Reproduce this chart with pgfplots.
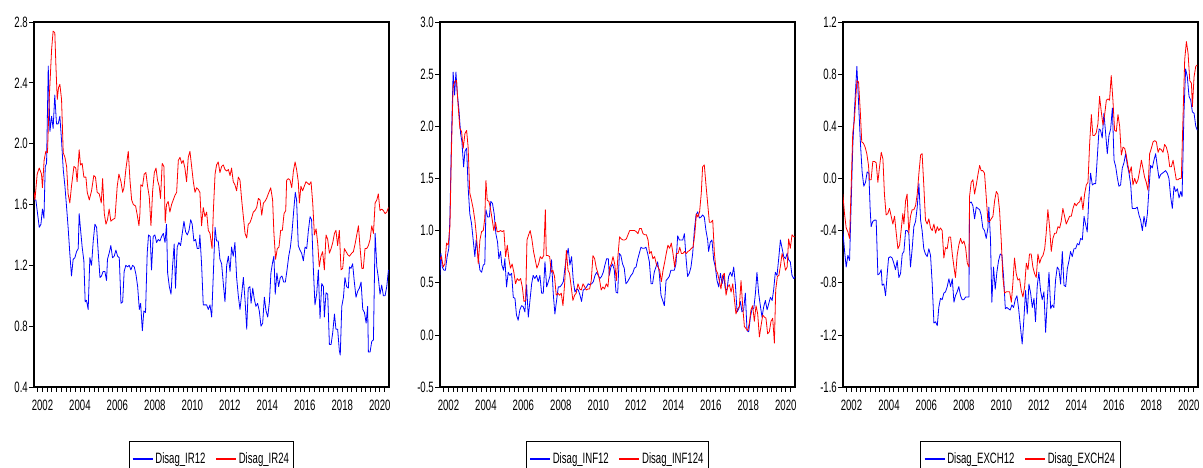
\documentclass[border=0pt]{standalone}
\usepackage{fontspec}
\setmainfont[FakeStretch=0.64]{Liberation Sans}
\usepackage{pgfplots}
\pgfplotsset{compat=1.18}
\pgfplotsset{
  eview/.style={
    scale only axis, width=355pt, height=365pt, anchor=south west,
    xmin=2001.55, xmax=2020.49,
    axis line style={line width=1.1pt},
    tick pos=left, tick align=outside,
    xtick={2002,2004,...,2020},
    minor xtick={2001.75,2002,...,2020.25},
    major tick length=5pt, minor tick length=5pt,
    tick style={black, line width=0.7pt},
    minor tick style={black, line width=0.7pt},
    /pgf/number format/assume math mode=true,
    xticklabel style={font=\fontsize{15}{15}\selectfont, inner sep=1pt, yshift=-7pt, /pgf/number format/1000 sep={}},
    yticklabel style={font=\fontsize{15}{15}\selectfont, inner sep=1pt, /pgf/number format/.cd, fixed, fixed zerofill, precision=1},
    legend style={at={(0.5,-0.148)}, anchor=north, legend columns=2, draw=black, line width=1pt,
      font=\fontsize{15}{15}\selectfont, inner sep=3pt, minimum height=29pt,
      /tikz/every even column/.append style={column sep=8pt}},
    legend image code/.code={\draw[#1, line width=1.3pt] (0pt,0pt) -- (20pt,0pt);},
    every axis plot/.append style={line width=0.8pt, line join=round},
  }
}
\begin{document}
\begin{tikzpicture}
\useasboundingbox (0pt,0pt) rectangle (1203pt,468pt);
% ---------------- Panel 1 ----------------
\begin{axis}[eview, at={(34pt,81pt)}, ymin=0.4, ymax=2.8, ytick={0.4,0.8,1.2,1.6,2.0,2.4,2.8}]
\addplot[color=blue] coordinates {
(2001.56,1.63)(2001.65,1.63)(2001.74,1.54)(2001.83,1.45)(2001.92,1.47)(2002.00,1.57)(2002.08,1.51)(2002.15,1.85)(2002.22,1.87)(2002.31,2.51)
(2002.40,2.08)(2002.49,2.18)(2002.57,2.10)(2002.66,2.32)(2002.75,2.13)(2002.84,2.13)(2002.93,2.18)(2003.02,2.02)(2003.11,1.83)(2003.20,1.72)
(2003.29,1.58)(2003.37,1.45)(2003.46,1.28)(2003.55,1.13)(2003.64,1.24)(2003.73,1.25)(2003.82,1.29)(2003.91,1.31)(2003.96,1.54)(2004.03,1.44)
(2004.12,1.32)(2004.21,1.23)(2004.28,0.96)(2004.35,0.97)(2004.44,0.91)(2004.53,1.25)(2004.62,1.20)(2004.71,1.36)(2004.80,1.47)(2004.89,1.45)
(2004.98,1.28)(2005.07,1.12)(2005.15,1.13)(2005.24,1.16)(2005.33,1.16)(2005.42,1.10)(2005.47,1.24)(2005.56,1.28)(2005.65,1.33)(2005.74,1.25)
(2005.83,1.26)(2005.92,1.30)(2006.01,1.26)(2006.10,1.25)(2006.19,0.95)(2006.28,0.96)(2006.36,1.16)(2006.45,1.20)(2006.54,1.19)(2006.63,1.20)
(2006.72,1.17)(2006.81,1.20)(2006.90,1.19)(2006.99,1.14)(2007.08,1.06)(2007.17,0.91)(2007.24,0.95)(2007.33,0.77)(2007.41,0.90)(2007.50,0.89)
(2007.59,1.28)(2007.66,1.40)(2007.75,1.39)(2007.82,1.17)(2007.91,1.39)(2008.00,1.40)(2008.09,1.35)(2008.18,1.37)(2008.27,1.36)(2008.36,1.39)
(2008.45,1.41)(2008.54,1.35)(2008.62,1.47)(2008.68,1.15)(2008.77,1.06)(2008.86,1.01)(2008.94,1.19)(2009.03,1.34)(2009.10,1.05)(2009.19,1.32)
(2009.28,1.35)(2009.37,1.33)(2009.46,1.41)(2009.55,1.49)(2009.64,1.42)(2009.73,1.40)(2009.82,1.43)(2009.91,1.50)(2009.99,1.47)(2010.08,1.36)
(2010.17,1.37)(2010.26,1.31)(2010.35,1.31)(2010.40,1.40)(2010.49,1.21)(2010.58,0.94)(2010.67,0.94)(2010.76,0.94)(2010.85,0.91)(2010.94,0.94)
(2011.03,0.86)(2011.12,1.15)(2011.21,1.45)(2011.29,1.36)(2011.38,1.36)(2011.47,1.24)(2011.56,1.21)(2011.65,1.08)(2011.74,0.96)(2011.83,1.20)
(2011.92,1.26)(2012.01,1.16)(2012.09,1.32)(2012.18,1.26)(2012.27,1.35)(2012.36,1.12)(2012.45,1.00)(2012.54,0.91)(2012.63,1.01)(2012.72,1.12)
(2012.81,0.97)(2012.90,0.78)(2012.98,1.05)(2013.07,1.06)(2013.13,0.95)(2013.22,1.05)(2013.30,0.98)(2013.39,0.93)(2013.48,0.95)(2013.57,0.90)
(2013.66,0.80)(2013.75,0.82)(2013.84,0.99)(2013.93,0.90)(2014.02,0.86)(2014.11,0.96)(2014.19,1.15)(2014.28,1.22)(2014.35,1.26)(2014.42,1.01)
(2014.51,1.15)(2014.60,1.06)(2014.69,1.12)(2014.78,1.13)(2014.87,1.09)(2014.96,1.09)(2015.05,1.17)(2015.14,1.26)(2015.23,1.32)(2015.31,1.41)
(2015.40,1.55)(2015.49,1.68)(2015.56,1.63)(2015.65,1.33)(2015.74,1.30)(2015.83,1.28)(2015.92,1.23)(2016.01,1.32)(2016.10,1.31)(2016.19,1.43)
(2016.28,1.52)(2016.36,1.50)(2016.45,1.19)(2016.54,0.94)(2016.63,1.01)(2016.72,1.17)(2016.81,0.85)(2016.90,1.08)(2016.99,1.06)(2017.04,0.86)
(2017.13,1.02)(2017.22,1.01)(2017.31,0.68)(2017.40,0.68)(2017.49,0.76)(2017.58,0.88)(2017.66,0.78)(2017.75,0.78)(2017.84,0.64)(2017.89,0.61)
(2017.97,0.93)(2018.06,0.99)(2018.14,1.12)(2018.23,1.06)(2018.32,1.05)(2018.38,1.19)(2018.46,1.18)(2018.55,1.21)(2018.64,1.09)(2018.73,0.99)
(2018.82,1.03)(2018.91,1.05)(2019.00,1.09)(2019.09,0.91)(2019.18,0.89)(2019.27,0.82)(2019.35,0.93)(2019.39,0.63)(2019.48,0.63)(2019.57,0.70)
(2019.66,0.71)(2019.75,1.41)(2019.84,1.19)(2019.92,1.12)(2020.01,1.01)(2020.10,1.07)(2020.19,1.00)(2020.28,1.00)(2020.37,1.06)(2020.46,1.17)
};
\addplot[color=red] coordinates {
(2001.56,1.68)(2001.60,1.63)(2001.72,1.80)(2001.83,1.84)(2001.95,1.80)(2002.00,1.71)(2002.09,1.89)(2002.18,1.95)(2002.27,1.94)(2002.36,2.29)
(2002.49,2.62)(2002.57,2.74)(2002.66,2.73)(2002.72,2.51)(2002.79,2.29)(2002.86,2.37)(2002.93,2.39)(2003.02,2.29)(2003.11,1.94)(2003.20,1.91)
(2003.29,1.85)(2003.37,1.67)(2003.46,1.61)(2003.55,1.72)(2003.68,1.85)(2003.78,1.84)(2003.85,1.75)(2003.96,1.96)(2004.03,1.86)(2004.12,1.87)
(2004.21,1.78)(2004.32,1.78)(2004.39,1.68)(2004.50,1.63)(2004.62,1.69)(2004.74,1.79)(2004.83,1.78)(2004.92,1.68)(2005.03,1.67)(2005.14,1.61)
(2005.21,1.77)(2005.30,1.54)(2005.39,1.47)(2005.47,1.50)(2005.56,1.57)(2005.65,1.49)(2005.74,1.50)(2005.87,1.51)(2005.99,1.72)(2006.08,1.80)
(2006.19,1.75)(2006.28,1.68)(2006.35,1.71)(2006.45,1.83)(2006.58,1.95)(2006.67,1.76)(2006.76,1.63)(2006.85,1.60)(2006.97,1.59)(2007.06,1.53)
(2007.15,1.46)(2007.20,1.54)(2007.25,1.73)(2007.34,1.72)(2007.43,1.80)(2007.52,1.81)(2007.61,1.72)(2007.70,1.65)(2007.79,1.46)(2007.88,1.69)
(2007.97,1.81)(2008.06,1.84)(2008.14,1.76)(2008.23,1.72)(2008.30,1.64)(2008.39,1.87)(2008.48,1.85)(2008.55,1.48)(2008.62,1.60)(2008.71,1.62)
(2008.80,1.55)(2008.89,1.60)(2008.98,1.63)(2009.07,1.66)(2009.16,1.68)(2009.25,1.89)(2009.34,1.91)(2009.43,1.87)(2009.51,1.89)(2009.60,1.84)
(2009.69,1.75)(2009.78,1.91)(2009.87,1.95)(2009.96,1.85)(2010.05,1.75)(2010.14,1.68)(2010.23,1.71)(2010.31,1.70)(2010.40,1.68)(2010.49,1.46)
(2010.58,1.58)(2010.67,1.52)(2010.76,1.55)(2010.85,1.43)(2010.94,1.41)(2011.05,1.31)(2011.12,1.56)(2011.21,1.80)(2011.29,1.86)(2011.38,1.88)
(2011.47,1.81)(2011.56,1.85)(2011.65,1.86)(2011.74,1.83)(2011.83,1.82)(2011.92,1.83)(2012.01,1.79)(2012.09,1.84)(2012.18,1.75)(2012.27,1.73)
(2012.36,1.69)(2012.45,1.78)(2012.54,1.76)(2012.63,1.63)(2012.72,1.52)(2012.81,1.41)(2012.90,1.38)(2012.98,1.47)(2013.07,1.48)(2013.16,1.51)
(2013.25,1.55)(2013.34,1.56)(2013.43,1.58)(2013.52,1.64)(2013.61,1.63)(2013.70,1.53)(2013.79,1.61)(2013.87,1.62)(2013.96,1.64)(2014.05,1.67)
(2014.18,1.71)(2014.28,1.63)(2014.35,1.41)(2014.44,1.24)(2014.53,1.31)(2014.62,1.32)(2014.71,1.43)(2014.80,1.43)(2014.89,1.54)(2014.98,1.56)
(2015.03,1.76)(2015.12,1.77)(2015.21,1.76)(2015.30,1.71)(2015.39,1.82)(2015.48,1.88)(2015.56,1.83)(2015.65,1.75)(2015.71,1.61)(2015.79,1.72)
(2015.88,1.69)(2015.97,1.72)(2016.06,1.75)(2016.15,1.74)(2016.24,1.73)(2016.33,1.75)(2016.42,1.61)(2016.51,1.40)(2016.60,1.44)(2016.69,1.34)
(2016.77,1.19)(2016.86,1.26)(2016.95,1.29)(2017.04,1.17)(2017.13,1.40)(2017.22,1.37)(2017.31,1.28)(2017.40,1.31)(2017.49,1.35)(2017.58,1.41)
(2017.66,1.43)(2017.75,1.33)(2017.84,1.43)(2017.93,1.17)(2018.02,1.18)(2018.11,1.31)(2018.20,1.29)(2018.29,1.27)(2018.38,1.26)(2018.50,1.28)
(2018.59,1.29)(2018.68,1.34)(2018.77,1.40)(2018.86,1.46)(2018.95,1.31)(2019.04,1.18)(2019.12,1.18)(2019.21,1.31)(2019.30,1.31)(2019.39,1.33)
(2019.48,1.37)(2019.57,1.46)(2019.66,1.41)(2019.75,1.61)(2019.84,1.63)(2019.92,1.67)(2020.01,1.56)(2020.10,1.57)(2020.19,1.56)(2020.28,1.54)
(2020.37,1.55)(2020.46,1.58)
};
\legend{Disag\_IR12,Disag\_IR24}
\end{axis}
% ---------------- Panel 2 ----------------
\begin{axis}[eview, at={(440pt,81pt)}, ymin=-0.5, ymax=3.0, ytick={-0.5,0,0.5,1.0,1.5,2.0,2.5,3.0}]
\addplot[color=blue] coordinates {
(2001.54,0.57)(2001.60,0.78)(2001.67,0.65)(2001.76,0.62)(2001.84,0.62)(2001.93,0.75)(2002.02,0.83)(2002.08,1.13)(2002.16,1.87)(2002.25,2.52)
(2002.33,2.30)(2002.40,2.52)(2002.47,2.32)(2002.56,2.16)(2002.65,1.93)(2002.72,1.85)(2002.81,1.61)(2002.88,1.76)(2002.97,1.79)(2003.05,1.42)
(2003.14,1.16)(2003.23,1.07)(2003.32,0.91)(2003.41,0.75)(2003.48,0.91)(2003.57,0.78)(2003.68,0.62)(2003.77,0.60)(2003.86,0.67)(2003.94,0.68)
(2004.00,1.20)(2004.09,1.13)(2004.18,1.13)(2004.26,1.28)(2004.35,1.26)(2004.44,1.16)(2004.53,0.97)(2004.62,0.89)(2004.69,0.73)(2004.78,0.80)
(2004.85,0.67)(2004.94,0.62)(2005.01,0.73)(2005.10,0.46)(2005.19,0.60)(2005.28,0.57)(2005.37,0.59)(2005.46,0.36)(2005.55,0.35)(2005.63,0.19)
(2005.72,0.14)(2005.81,0.24)(2005.90,0.28)(2005.99,0.27)(2006.08,0.22)(2006.17,0.48)(2006.26,0.17)(2006.35,0.33)(2006.44,0.49)(2006.52,0.57)
(2006.61,0.54)(2006.70,0.57)(2006.79,0.51)(2006.88,0.57)(2006.97,0.40)(2007.06,0.40)(2007.15,0.70)(2007.24,0.46)(2007.33,0.51)(2007.41,0.56)
(2007.50,0.72)(2007.59,0.40)(2007.68,0.20)(2007.77,0.33)(2007.86,0.46)(2007.95,0.46)(2008.04,0.48)(2008.13,0.51)(2008.22,0.65)(2008.30,0.75)
(2008.39,0.83)(2008.48,0.67)(2008.57,0.75)(2008.66,0.52)(2008.75,0.41)(2008.84,0.44)(2008.93,0.43)(2009.02,0.38)(2009.10,0.32)(2009.19,0.43)
(2009.28,0.44)(2009.37,0.46)(2009.46,0.49)(2009.55,0.48)(2009.64,0.49)(2009.73,0.51)(2009.82,0.57)(2009.91,0.60)(2009.99,0.57)(2010.08,0.54)
(2010.17,0.56)(2010.26,0.60)(2010.35,0.67)(2010.44,0.73)(2010.53,0.73)(2010.58,0.57)(2010.67,0.65)(2010.76,0.68)(2010.85,0.62)(2010.94,0.41)
(2011.03,0.40)(2011.12,0.78)(2011.20,0.76)(2011.29,0.68)(2011.38,0.64)(2011.47,0.49)(2011.56,0.51)(2011.65,0.54)(2011.74,0.57)(2011.83,0.59)
(2011.92,0.64)(2012.01,0.65)(2012.09,0.72)(2012.18,0.78)(2012.27,0.84)(2012.36,0.83)(2012.45,0.83)(2012.54,0.84)(2012.63,0.78)(2012.72,0.70)
(2012.81,0.49)(2012.89,0.49)(2012.98,0.60)(2013.07,0.65)(2013.16,0.70)(2013.25,0.59)(2013.34,0.38)(2013.43,0.33)(2013.52,0.28)(2013.61,0.52)
(2013.70,0.54)(2013.78,0.56)(2013.87,0.62)(2013.96,0.62)(2014.05,0.62)(2014.14,0.68)(2014.23,0.95)(2014.32,0.91)(2014.41,0.91)(2014.50,0.91)
(2014.59,0.97)(2014.67,0.75)(2014.76,0.56)(2014.85,0.59)(2014.94,0.65)(2015.03,0.78)(2015.12,1.00)(2015.21,1.15)(2015.30,1.18)(2015.39,1.12)
(2015.48,1.13)(2015.56,1.15)(2015.65,1.13)(2015.74,1.00)(2015.83,0.91)(2015.88,0.80)(2015.97,0.89)(2016.06,0.91)(2016.15,0.72)(2016.24,0.65)
(2016.33,0.52)(2016.42,0.46)(2016.51,0.59)(2016.60,0.49)(2016.69,0.57)(2016.77,0.44)(2016.86,0.43)(2016.95,0.56)(2017.04,0.60)(2017.13,0.56)
(2017.22,0.65)(2017.31,0.48)(2017.40,0.22)(2017.49,0.25)(2017.58,0.32)(2017.66,0.22)(2017.75,0.24)(2017.84,0.40)(2017.93,0.04)(2018.02,0.03)
(2018.11,0.17)(2018.20,0.25)(2018.29,0.25)(2018.38,0.40)(2018.46,0.60)(2018.55,0.40)(2018.64,0.28)(2018.73,0.17)(2018.82,0.27)(2018.91,0.33)
(2019.00,0.24)(2019.09,0.30)(2019.18,0.36)(2019.27,0.33)(2019.35,0.43)(2019.44,0.60)(2019.53,0.57)(2019.62,0.73)(2019.71,0.91)(2019.80,0.83)
(2019.89,0.75)(2019.98,0.73)(2020.07,0.78)(2020.15,0.72)(2020.24,0.70)(2020.33,0.57)(2020.42,0.54)(2020.49,0.56)
};
\addplot[color=red] coordinates {
(2001.54,0.72)(2001.63,0.75)(2001.72,0.65)(2001.81,0.68)(2001.90,0.88)(2001.99,0.86)(2002.08,1.04)(2002.16,1.77)(2002.25,2.38)(2002.34,2.43)
(2002.43,2.44)(2002.52,2.19)(2002.61,1.98)(2002.70,1.95)(2002.79,1.79)(2002.88,1.93)(2002.97,1.96)(2003.05,1.80)(2003.14,1.36)(2003.23,1.29)
(2003.32,1.21)(2003.41,1.10)(2003.50,0.94)(2003.59,0.68)(2003.68,0.91)(2003.77,0.99)(2003.86,1.00)(2003.94,1.12)(2004.00,1.48)(2004.07,1.29)
(2004.16,1.28)(2004.25,1.20)(2004.34,1.10)(2004.42,1.00)(2004.51,1.08)(2004.60,0.99)(2004.69,0.99)(2004.78,1.00)(2004.87,0.99)(2004.96,1.00)
(2005.05,0.75)(2005.14,0.86)(2005.23,0.72)(2005.31,0.64)(2005.40,0.68)(2005.49,0.60)(2005.58,0.49)(2005.67,0.54)(2005.76,0.52)(2005.85,0.54)
(2005.94,0.46)(2006.03,0.32)(2006.12,0.33)(2006.19,0.91)(2006.28,0.96)(2006.36,1.00)(2006.45,0.92)(2006.54,0.80)(2006.63,0.72)(2006.72,0.64)
(2006.81,0.68)(2006.90,0.75)(2006.99,0.73)(2007.08,0.76)(2007.17,1.20)(2007.22,0.76)(2007.31,0.76)(2007.40,0.75)(2007.49,0.60)(2007.57,0.62)
(2007.66,0.56)(2007.75,0.38)(2007.84,0.40)(2007.93,0.38)(2008.02,0.40)(2008.11,0.28)(2008.20,0.49)(2008.29,0.81)(2008.38,0.62)(2008.46,0.59)
(2008.55,0.46)(2008.64,0.33)(2008.73,0.38)(2008.82,0.40)(2008.91,0.49)(2009.00,0.44)(2009.09,0.43)(2009.18,0.49)(2009.27,0.46)(2009.35,0.43)
(2009.44,0.44)(2009.53,0.44)(2009.62,0.52)(2009.71,0.76)(2009.80,0.73)(2009.89,0.64)(2009.98,0.59)(2010.07,0.52)(2010.15,0.43)(2010.24,0.46)
(2010.33,0.44)(2010.42,0.49)(2010.51,0.46)(2010.60,0.65)(2010.69,0.68)(2010.78,0.75)(2010.87,0.68)(2010.96,0.52)(2011.04,0.75)(2011.13,0.94)
(2011.22,0.92)(2011.31,0.91)(2011.40,0.91)(2011.49,0.92)(2011.58,0.96)(2011.67,1.00)(2011.76,1.00)(2011.84,1.00)(2011.93,1.00)(2012.02,0.99)
(2012.11,0.97)(2012.20,1.02)(2012.29,1.02)(2012.38,0.97)(2012.47,0.96)(2012.56,0.96)(2012.65,0.91)(2012.73,0.78)(2012.82,0.80)(2012.91,0.73)
(2013.00,0.75)(2013.09,0.68)(2013.18,0.65)(2013.27,0.62)(2013.36,0.51)(2013.45,0.62)(2013.54,0.70)(2013.62,0.78)(2013.71,0.86)(2013.80,0.83)
(2013.89,0.88)(2013.98,0.78)(2014.07,0.65)(2014.16,0.78)(2014.25,0.78)(2014.34,0.84)(2014.43,0.78)(2014.51,0.78)(2014.60,0.80)(2014.69,0.78)
(2014.78,0.80)(2014.87,0.81)(2014.96,0.83)(2015.05,0.84)(2015.14,0.96)(2015.23,1.16)(2015.31,1.13)(2015.40,1.18)(2015.49,1.36)(2015.56,1.61)
(2015.65,1.63)(2015.74,1.44)(2015.83,1.26)(2015.92,1.08)(2016.01,1.08)(2016.10,1.10)(2016.19,0.78)(2016.28,0.62)(2016.36,0.59)(2016.45,0.52)
(2016.54,0.44)(2016.63,0.57)(2016.72,0.59)(2016.81,0.38)(2016.90,0.46)(2016.99,0.48)(2017.08,0.41)(2017.17,0.49)(2017.25,0.35)(2017.34,0.20)
(2017.43,0.25)(2017.52,0.27)(2017.61,0.52)(2017.70,0.27)(2017.79,0.08)(2017.88,0.06)(2017.97,0.04)(2018.06,0.12)(2018.14,0.24)(2018.23,0.28)
(2018.32,0.13)(2018.41,0.28)(2018.50,0.20)(2018.59,-0.02)(2018.68,0.09)(2018.77,0.19)(2018.86,0.17)(2018.94,0.16)(2019.03,0.01)(2019.12,0.03)
(2019.21,0.13)(2019.30,0.16)(2019.39,-0.08)(2019.46,0.43)(2019.55,0.56)(2019.63,0.57)(2019.72,0.67)(2019.80,0.78)(2019.89,0.72)(2019.98,0.62)
(2020.07,0.65)(2020.15,0.92)(2020.24,0.83)(2020.33,0.96)(2020.42,0.94)(2020.49,0.94)
};
\legend{Disag\_INF12,Disag\_INF124}
\end{axis}
% ---------------- Panel 3 ----------------
\begin{axis}[eview, at={(843pt,81pt)}, ymin=-1.6, ymax=1.2, ytick={-1.6,-1.2,-0.8,-0.4,0,0.4,0.8,1.2}]
\addplot[color=blue] coordinates {
(2001.54,-0.40)(2001.63,-0.55)(2001.72,-0.68)(2001.81,-0.59)(2001.90,-0.63)(2001.98,-0.22)(2002.07,0.24)(2002.16,0.52)(2002.29,0.86)(2002.39,0.55)
(2002.48,0.27)(2002.57,0.05)(2002.66,-0.06)(2002.75,-0.03)(2002.84,0.05)(2002.93,0.04)(2003.00,-0.24)(2003.05,-0.37)(2003.14,-0.33)(2003.23,-0.32)
(2003.32,-0.32)(2003.41,-0.74)(2003.50,-0.73)(2003.59,-0.70)(2003.64,-0.82)(2003.73,-0.81)(2003.82,-0.90)(2003.91,-0.73)(2003.98,-0.61)(2004.08,-0.60)
(2004.17,-0.61)(2004.26,-0.65)(2004.35,-0.70)(2004.44,-0.63)(2004.53,-0.76)(2004.62,-0.73)(2004.71,-0.58)(2004.80,-0.56)(2004.89,-0.40)(2004.97,-0.40)
(2005.06,-0.42)(2005.15,-0.68)(2005.24,-0.54)(2005.33,-0.37)(2005.42,-0.33)(2005.51,-0.22)(2005.60,-0.04)(2005.69,-0.32)(2005.77,-0.40)(2005.86,-0.54)
(2005.95,-0.58)(2006.04,-0.60)(2006.13,-0.54)(2006.22,-0.59)(2006.31,-0.81)(2006.40,-1.11)(2006.49,-1.10)(2006.58,-1.13)(2006.66,-0.99)(2006.75,-0.92)
(2006.84,-0.93)(2006.93,-0.88)(2007.02,-0.87)(2007.11,-0.83)(2007.20,-0.77)(2007.29,-0.83)(2007.38,-0.77)(2007.47,-0.95)(2007.55,-0.90)(2007.64,-0.87)
(2007.73,-0.83)(2007.82,-0.90)(2007.91,-0.93)(2008.00,-0.93)(2008.09,-0.91)(2008.18,-0.91)(2008.27,-0.91)(2008.30,-0.19)(2008.39,-0.18)(2008.48,-0.21)
(2008.57,-0.31)(2008.66,-0.22)(2008.75,-0.23)(2008.84,-0.24)(2008.92,-0.28)(2009.01,-0.38)(2009.10,-0.40)(2009.19,-0.46)(2009.28,-0.38)(2009.33,-0.22)
(2009.42,-0.47)(2009.49,-0.95)(2009.58,-0.68)(2009.67,-0.85)(2009.76,-0.72)(2009.85,-0.63)(2009.94,-0.58)(2010.03,-0.59)(2010.12,-0.76)(2010.21,-1.00)
(2010.29,-0.99)(2010.38,-1.00)(2010.47,-1.01)(2010.56,-0.97)(2010.65,-0.99)(2010.74,-0.93)(2010.83,-0.90)(2010.92,-1.00)(2011.01,-1.13)(2011.11,-1.27)
(2011.20,-1.08)(2011.29,-0.86)(2011.38,-1.04)(2011.47,-0.81)(2011.56,-0.88)(2011.65,-0.99)(2011.74,-0.92)(2011.82,-1.10)(2011.91,-0.83)(2012.00,-0.72)
(2012.09,-0.86)(2012.18,-0.93)(2012.27,-0.87)(2012.36,-1.18)(2012.45,-0.93)(2012.54,-0.72)(2012.63,-1.00)(2012.71,-0.97)(2012.80,-0.99)(2012.89,-0.78)
(2012.98,-0.68)(2013.07,-0.70)(2013.16,-0.81)(2013.25,-0.56)(2013.34,-0.82)(2013.43,-0.83)(2013.52,-0.69)(2013.61,-0.63)(2013.69,-0.56)(2013.78,-0.60)
(2013.87,-0.54)(2013.96,-0.54)(2014.05,-0.50)(2014.14,-0.51)(2014.23,-0.46)(2014.32,-0.47)(2014.41,-0.29)(2014.49,-0.35)(2014.58,-0.41)(2014.67,-0.14)
(2014.76,0.04)(2014.85,-0.05)(2014.94,-0.04)(2015.03,-0.04)(2015.12,0.17)(2015.21,0.38)(2015.29,0.37)(2015.38,0.31)(2015.47,0.50)(2015.56,0.35)
(2015.65,0.19)(2015.74,0.33)(2015.83,0.38)(2015.92,0.54)(2016.01,0.14)(2016.10,0.09)(2016.18,0.01)(2016.27,-0.06)(2016.36,-0.05)(2016.45,0.08)
(2016.54,0.12)(2016.63,0.19)(2016.72,0.10)(2016.81,0.04)(2016.90,-0.05)(2016.98,-0.23)(2017.07,-0.23)(2017.16,-0.23)(2017.25,-0.22)(2017.34,-0.28)
(2017.43,-0.32)(2017.52,-0.40)(2017.61,-0.29)(2017.70,-0.37)(2017.79,-0.27)(2017.87,-0.09)(2017.96,0.10)(2018.05,0.08)(2018.14,0.14)(2018.23,0.19)
(2018.32,0.09)(2018.41,0.00)(2018.50,0.03)(2018.59,0.04)(2018.68,0.05)(2018.76,0.06)(2018.85,0.04)(2018.94,0.00)(2019.03,-0.14)(2019.12,-0.23)
(2019.21,-0.06)(2019.30,-0.10)(2019.39,-0.08)(2019.48,-0.15)(2019.57,-0.10)(2019.64,-0.14)(2019.74,0.50)(2019.83,0.84)(2019.92,0.78)(2020.01,0.63)
(2020.10,0.60)(2020.19,0.51)(2020.28,0.50)(2020.37,0.40)(2020.45,0.37)
};
\addplot[color=red] coordinates {
(2001.54,-0.12)(2001.63,-0.27)(2001.72,-0.38)(2001.81,-0.41)(2001.90,-0.46)(2001.98,-0.09)(2002.07,0.35)(2002.16,0.45)(2002.29,0.75)(2002.38,0.74)
(2002.47,0.52)(2002.55,0.28)(2002.64,0.27)(2002.73,0.24)(2002.82,0.19)(2002.91,0.10)(2002.96,-0.01)(2003.05,-0.01)(2003.14,0.13)(2003.23,0.13)
(2003.32,0.12)(2003.41,-0.03)(2003.50,0.09)(2003.59,0.20)(2003.68,0.15)(2003.76,-0.12)(2003.85,-0.28)(2003.94,-0.27)(2004.03,-0.23)(2004.12,-0.29)
(2004.21,-0.35)(2004.30,-0.29)(2004.39,-0.42)(2004.48,-0.54)(2004.57,-0.51)(2004.65,-0.40)(2004.74,-0.27)(2004.80,-0.35)(2004.89,-0.17)(2004.97,-0.12)
(2005.06,-0.42)(2005.15,-0.29)(2005.24,-0.24)(2005.33,-0.24)(2005.42,-0.21)(2005.51,-0.12)(2005.60,0.04)(2005.69,0.18)(2005.77,0.19)(2005.86,-0.05)
(2005.95,-0.32)(2006.04,-0.35)(2006.13,-0.31)(2006.22,-0.38)(2006.31,-0.40)(2006.40,-0.35)(2006.49,-0.42)(2006.58,-0.37)(2006.66,-0.40)(2006.75,-0.38)
(2006.84,-0.40)(2006.93,-0.61)(2007.02,-0.53)(2007.11,-0.54)(2007.20,-0.45)(2007.29,-0.45)(2007.38,-0.58)(2007.47,-0.68)(2007.55,-0.76)(2007.64,-0.59)
(2007.73,-0.51)(2007.82,-0.46)(2007.91,-0.50)(2008.00,-0.48)(2008.09,-0.53)(2008.18,-0.65)(2008.27,-0.68)(2008.30,-0.14)(2008.39,-0.03)(2008.48,-0.01)
(2008.57,-0.12)(2008.66,-0.05)(2008.75,0.03)(2008.84,0.10)(2008.92,0.06)(2009.01,0.06)(2009.10,0.04)(2009.19,-0.14)(2009.28,-0.33)(2009.37,-0.33)
(2009.46,-0.31)(2009.55,-0.29)(2009.64,-0.17)(2009.73,-0.10)(2009.81,-0.12)(2009.90,-0.24)(2009.99,-0.47)(2010.08,-0.76)(2010.17,-0.88)(2010.26,-0.87)
(2010.35,-0.87)(2010.44,-0.87)(2010.53,-0.95)(2010.61,-0.81)(2010.70,-0.61)(2010.79,-0.73)(2010.88,-0.78)(2010.97,-0.77)(2011.06,-0.86)(2011.15,-0.91)
(2011.24,-0.83)(2011.33,-0.65)(2011.42,-0.70)(2011.50,-0.58)(2011.59,-0.58)(2011.68,-0.68)(2011.77,-0.73)(2011.86,-0.76)(2011.95,-0.58)(2012.04,-0.65)
(2012.13,-0.61)(2012.22,-0.59)(2012.31,-0.54)(2012.39,-0.42)(2012.48,-0.24)(2012.57,-0.37)(2012.66,-0.56)(2012.75,-0.46)(2012.84,-0.42)(2012.93,-0.42)
(2013.02,-0.37)(2013.11,-0.38)(2013.19,-0.33)(2013.28,-0.23)(2013.37,-0.29)(2013.46,-0.35)(2013.55,-0.32)(2013.64,-0.29)(2013.73,-0.29)(2013.82,-0.23)
(2013.91,-0.19)(2013.99,-0.21)(2014.08,-0.19)(2014.17,-0.18)(2014.26,-0.14)(2014.35,-0.24)(2014.44,-0.12)(2014.53,-0.05)(2014.62,-0.03)(2014.71,0.27)
(2014.80,0.49)(2014.88,0.33)(2014.97,0.33)(2015.06,0.35)(2015.15,0.42)(2015.24,0.63)(2015.33,0.51)(2015.42,0.41)(2015.51,0.49)(2015.60,0.60)
(2015.69,0.61)(2015.77,0.60)(2015.86,0.79)(2015.95,0.60)(2016.04,0.37)(2016.13,0.36)(2016.22,0.49)(2016.31,0.40)(2016.40,0.18)(2016.49,0.24)
(2016.58,0.23)(2016.66,0.18)(2016.75,0.10)(2016.84,0.04)(2016.93,0.09)(2017.02,-0.05)(2017.11,0.00)(2017.20,-0.04)(2017.29,-0.01)(2017.38,0.06)
(2017.47,0.14)(2017.55,0.08)(2017.64,0.01)(2017.73,-0.03)(2017.82,-0.09)(2017.91,0.19)(2018.00,0.23)(2018.09,0.28)(2018.18,0.29)(2018.27,0.28)
(2018.36,0.20)(2018.44,0.23)(2018.53,0.22)(2018.62,0.20)(2018.71,0.26)(2018.80,0.24)(2018.89,0.19)(2018.98,0.09)(2019.07,0.09)(2019.16,0.14)
(2019.25,0.06)(2019.33,-0.01)(2019.42,-0.01)(2019.51,0.00)(2019.60,0.00)(2019.69,0.47)(2019.78,0.91)(2019.87,1.05)(2019.96,0.96)(2020.05,0.75)
(2020.14,0.73)(2020.19,0.55)(2020.28,0.78)(2020.37,0.86)(2020.45,0.87)
};
\legend{Disag\_EXCH12,Disag\_EXCH24}
\end{axis}
\end{tikzpicture}
\end{document}
